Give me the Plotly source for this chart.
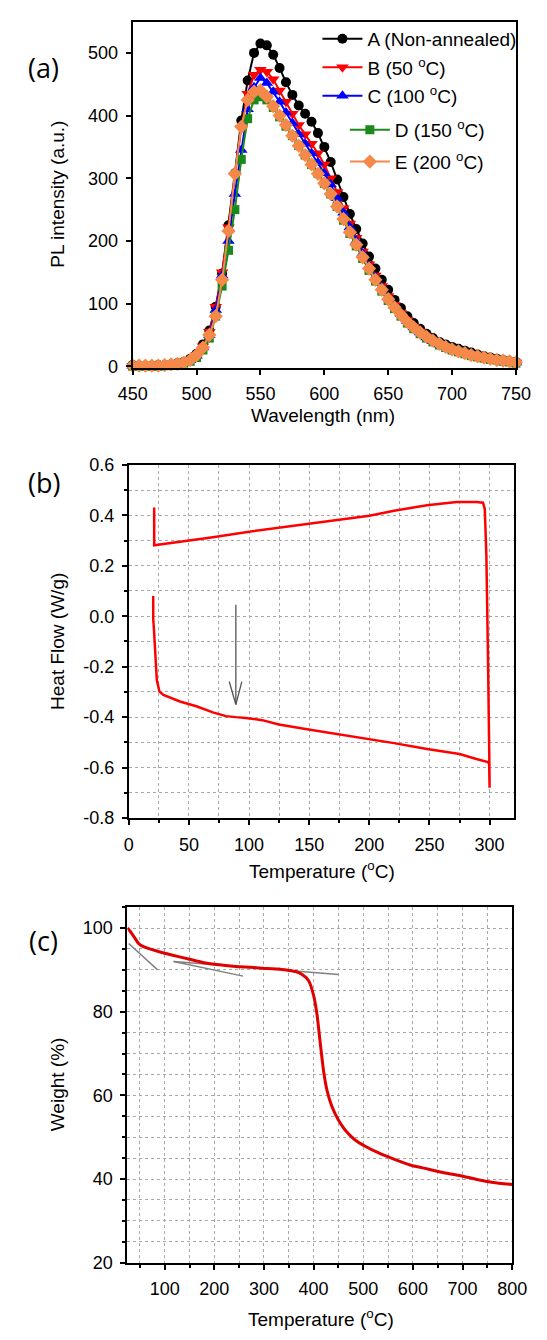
import plotly.graph_objects as go

W, H = 547, 1340

# ---------------- Panel (a): PL spectra ----------------
wavelength = list(range(450, 755, 5))
pl_A = [2, 1, 1, 1, 2, 2, 3, 5, 7, 12,
        20, 35, 57, 95, 148, 225, 308, 392, 456, 500,
        515, 512, 497, 476, 453, 433, 416, 403, 390, 372,
        350, 326, 298, 270, 243, 219, 196, 175, 156, 138,
        122, 106, 93, 80, 69, 60, 52, 45, 39, 35,
        31, 28, 25, 22, 19, 16, 14, 12, 10, 8,
        7]
pl_B = [1, 1, 1, 1, 1, 2, 3, 4, 6, 10,
        18, 32, 55, 95, 150, 222, 305, 380, 435, 465,
        473, 470, 458, 440, 422, 403, 385, 370, 355, 340,
        322, 300, 278, 252, 228, 205, 183, 163, 145, 128,
        112, 98, 85, 74, 63, 55, 47, 41, 36, 32,
        28, 25, 22, 19, 17, 15, 13, 11, 9, 8,
        6]
pl_C = [1, 1, 1, 1, 1, 2, 3, 4, 6, 10,
        17, 30, 50, 90, 145, 200, 275, 345, 410, 445,
        460, 452, 438, 422, 405, 388, 370, 355, 340, 325,
        308, 290, 268, 245, 222, 200, 180, 160, 142, 126,
        110, 96, 83, 72, 62, 54, 46, 40, 35, 31,
        27, 24, 21, 18, 16, 14, 12, 10, 9, 8,
        6]
pl_D = [0, 0, 0, 0, 0, 1, 2, 3, 5, 8,
        14, 26, 45, 80, 128, 185, 250, 330, 395, 425,
        430, 425, 413, 398, 383, 368, 352, 337, 322, 308,
        292, 275, 255, 233, 212, 192, 172, 153, 136, 120,
        105, 92, 80, 69, 60, 52, 45, 39, 34, 30,
        26, 23, 20, 17, 15, 13, 11, 10, 8, 7,
        5]
pl_E = [1, 1, 1, 1, 1, 2, 3, 4, 6, 10,
        18, 30, 50, 80, 138, 216, 307, 382, 425, 438,
        440, 430, 415, 400, 385, 368, 352, 337, 322, 307,
        292, 275, 255, 235, 214, 194, 174, 156, 138, 122,
        107, 94, 82, 71, 62, 54, 47, 41, 36, 31,
        27, 24, 21, 18, 16, 14, 12, 10, 9, 8,
        6]
series_names = ["A (Non-annealed)", "B (50 <sup>o</sup>C)", "C (100 <sup>o</sup>C)",
                "D (150 <sup>o</sup>C)", "E (200 <sup>o</sup>C)"]
series_colors = ["#000000", "#FF0000", "#0000FF", "#1A8A1A", "#F5894A"]
series_symbols = ["circle", "triangle-down", "triangle-up", "square", "diamond"]
series_sizes = [10, 11, 11, 9, 11]

# ---------------- Panel (b): DSC ----------------
dsc_temp = [20.3, 20.3, 21.0, 21.9, 23.3, 25.5, 28.8, 42.5, 56.2, 69.9, 80.8, 89.0, 97.0,
            111, 124.7, 152, 175, 200, 220.5, 248, 261.6, 275, 289, 298.6, 299.6, 300.0,
            299.8, 298.6, 297.3, 296.0, 294.5, 289, 272.6, 248, 220.5, 200, 179, 152,
            124.7, 97.3, 69.9, 28.8, 22.0, 21.1, 21.1]
dsc_flow = [0.080, -0.010, -0.060, -0.149, -0.253, -0.299, -0.312, -0.338, -0.357, -0.381,
            -0.396, -0.400, -0.403, -0.412, -0.429, -0.451, -0.468, -0.487, -0.503, -0.526,
            -0.536, -0.546, -0.566, -0.578, -0.585, -0.680,
            -0.580, -0.149, 0.242, 0.424, 0.450, 0.453, 0.453, 0.440, 0.418, 0.398, 0.385,
            0.366, 0.349, 0.333, 0.313, 0.287, 0.281, 0.281, 0.431]
dsc_ytickvals = [0.6, 0.4, 0.2, 0.0, -0.2, -0.4, -0.6, -0.8]
dsc_yticktext = ["0.6", "0.4", "0.2", "0.0", "-0.2", "-0.4", "-0.6", "-0.8"]
arrow_x = [89, 89]
arrow_y = [0.045, -0.350]
arrow_head_x = [83.5, 89, 94.0]
arrow_head_y = [-0.259, -0.350, -0.259]

# ---------------- Panel (c): TGA ----------------
tga_temp = [25, 33, 40, 46, 53, 65, 84, 116, 148, 180, 210, 243, 275, 307, 330, 348, 364,
            377, 390, 400, 407, 413, 420, 427, 437, 450, 463, 483, 503, 530, 563, 596, 630,
            663, 696, 729, 762, 800]
tga_weight = [100, 98.8, 97.6, 96.5, 95.8, 95.2, 94.5, 93.5, 92.6, 91.7, 91.2, 90.8, 90.6,
              90.3, 90.2, 89.9, 89.6, 88.9, 87.4, 83.9, 79.2, 72.9, 65.9, 61.2, 57.3, 54.1,
              51.8, 49.4, 47.9, 46.3, 44.7, 43.3, 42.4, 41.5, 40.8, 39.9, 39.2, 38.7]
tangent1_x = [27.5, 85.7]
tangent1_y = [96.3, 90.0]
tangent2_x = [118, 258]
tangent2_y = [92.0, 88.5]
tangent3_x = [118, 450]
tangent3_y = [92.0, 88.9]


def px_x(px):
    return px / W


def px_y(py):
    return 1 - py / H


FONT = "Liberation Sans, Arial, sans-serif"

fig = go.Figure()

legend_rows = [(320, 29.3), (320, 58.3), (320, 87.3), (349, 121.7), (349, 154.0)]
for i, (vals, name) in enumerate(zip([pl_A, pl_B, pl_C, pl_D, pl_E], series_names)):
    fig.add_trace(go.Scatter(
        x=wavelength, y=vals, name=name, mode="lines+markers",
        line=dict(color=series_colors[i], width=2),
        marker=dict(symbol=series_symbols[i], size=series_sizes[i], color=series_colors[i],
                    line=dict(width=0)),
        cliponaxis=False,
        xaxis="x", yaxis="y",
        legend="legend" if i == 0 else f"legend{i + 1}",
    ))

fig.add_trace(go.Scatter(x=dsc_temp, y=dsc_flow, mode="lines", showlegend=False,
                         line=dict(color="#FF0000", width=2.5), xaxis="x2", yaxis="y2"))
fig.add_trace(go.Scatter(x=arrow_x, y=arrow_y, mode="lines", showlegend=False,
                         line=dict(color="#555555", width=1.3), xaxis="x2", yaxis="y2"))
fig.add_trace(go.Scatter(x=arrow_head_x, y=arrow_head_y, mode="lines", showlegend=False,
                         line=dict(color="#555555", width=1.3), xaxis="x2", yaxis="y2"))

for tx, ty in [(tangent1_x, tangent1_y), (tangent2_x, tangent2_y), (tangent3_x, tangent3_y)]:
    fig.add_trace(go.Scatter(x=tx, y=ty, mode="lines", showlegend=False,
                             line=dict(color="#808080", width=1.5), xaxis="x3", yaxis="y3"))
fig.add_trace(go.Scatter(x=tga_temp, y=tga_weight, mode="lines", showlegend=False,
                         line=dict(color="#E00000", width=3, shape="spline", smoothing=0.5),
                         xaxis="x3", yaxis="y3"))

tickfont = dict(family=FONT, size=18, color="black")
common = dict(showline=True, linecolor="black", linewidth=2, mirror=True,
              ticks="outside", ticklen=5, tickwidth=1.5, tickcolor="black",
              tickfont=tickfont, zeroline=False)
grid = dict(showgrid=True, gridcolor="#A8A8A8", gridwidth=1, griddash="dot")

layout = dict(
    width=W, height=H,
    margin=dict(l=0, r=0, t=0, b=0),
    paper_bgcolor="white", plot_bgcolor="white",
    font=dict(family=FONT, color="black"),
    xaxis=dict(domain=[px_x(124.5), px_x(530)], range=[450, 750], dtick=50, tick0=450,
               anchor="y", showgrid=False, ticklabelstandoff=4, **common),
    yaxis=dict(domain=[px_y(363), px_y(11.7)], range=[-2, 550], tickvals=[0, 100, 200, 300, 400, 500],
               anchor="x", showgrid=False, ticklabelstandoff=4, **common),
    xaxis2=dict(domain=[px_x(120.4), px_x(527.6)], range=[0, 320], dtick=50, tick0=0,
                anchor="y2", ticklabelstandoff=4,
                minor=dict(dtick=25, tick0=0, ticks="outside", ticklen=3, tickcolor="black",
                           showgrid=True, gridcolor="#A8A8A8", griddash="dot"),
                **grid, **common),
    yaxis2=dict(domain=[px_y(820.3), px_y(461.7)], range=[-0.8, 0.6],
                tickmode="array", tickvals=dsc_ytickvals, ticktext=dsc_yticktext,
                anchor="x2", ticklabelstandoff=4,
                minor=dict(tickmode="linear", dtick=0.1, tick0=0, ticks="outside", ticklen=3,
                           tickcolor="black", showgrid=True, gridcolor="#A8A8A8", griddash="dot"),
                **grid, **common),
    xaxis3=dict(domain=[px_x(119), px_x(526)], range=[25, 800], dtick=100, tick0=0,
                anchor="y3", ticklabelstandoff=4,
                minor=dict(dtick=50, tick0=0, ticks="outside", ticklen=3, tickcolor="black",
                           showgrid=True, gridcolor="#A8A8A8", griddash="dot"),
                **grid, **common),
    yaxis3=dict(domain=[px_y(1271.7), px_y(910.7)], range=[20, 105], dtick=20, tick0=0,
                anchor="x3", ticklabelstandoff=4,
                minor=dict(dtick=5, tick0=0, ticks="outside", ticklen=3, tickcolor="black",
                           showgrid=True, gridcolor="#A8A8A8", griddash="dot"),
                **grid, **common),
)

for i, (lx, ly) in enumerate(legend_rows):
    key = "legend" if i == 0 else f"legend{i + 1}"
    layout[key] = dict(x=px_x(lx), y=px_y(ly), xanchor="left", yanchor="middle",
                       xref="paper", yref="paper",
                       bgcolor="rgba(0,0,0,0)", borderwidth=0, itemwidth=40,
                       font=dict(family=FONT, size=19, color="black"))

fig.update_layout(**layout)

title_font = dict(family=FONT, size=19, color="black")
label_font = dict(family="Open Sans, sans-serif", size=27, color="black")
annots = [
    ("(a)", 30, 58, 0, label_font),
    ("(b)", 31, 480, 0, label_font),
    ("(c)", 30, 945, 0, label_font),
    ("Wavelength (nm)", 326, 412, 0, title_font),
    ("Temperature (<sup>o</sup>C)", 325, 873, 0, title_font),
    ("Temperature (<sup>o</sup>C)", 324, 1328, 0, title_font),
    ("PL intensity (a.u.)", 45, 187, -90, title_font),
    ("Heat Flow (W/g)", 45, 641, -90, title_font),
    ("Weight (%)", 45, 1091, -90, title_font),
]
for text, ax_, ay_, ang, fnt in annots:
    fig.add_annotation(text=text, x=px_x(ax_), y=px_y(ay_), xref="paper", yref="paper",
                       xanchor="center", yanchor="middle", showarrow=False,
                       textangle=ang, font=fnt)

fig.write_html("out.html",
               config={"displayModeBar": False},
               post_script="document.body.style.margin='0';document.body.style.overflow='hidden';")
